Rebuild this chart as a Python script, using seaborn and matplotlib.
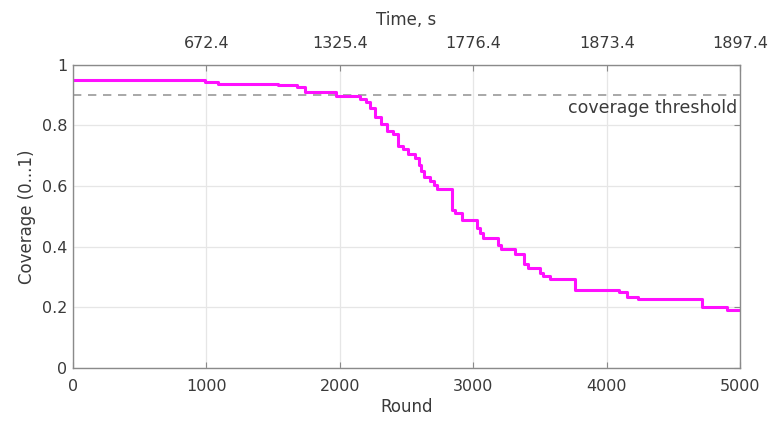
import matplotlib
matplotlib.use("Agg")
import matplotlib.pyplot as plt
import seaborn as sns
import pandas as pd

# Coverage per round (stepwise; each value holds until the next round entry)
rounds = [0, 990, 1087, 1537, 1679, 1739, 1971, 2151, 2196, 2226, 2264, 2309,
          2354, 2399, 2436, 2474, 2511, 2564, 2594, 2609, 2631, 2676, 2706,
          2729, 2841, 2863, 2916, 3028, 3051, 3073, 3186, 3208, 3313, 3381,
          3411, 3501, 3523, 3576, 3763, 4095, 4153, 4235, 4715, 4902, 5000]
coverage = [0.950, 0.944, 0.937, 0.932, 0.926, 0.912, 0.896, 0.888, 0.878,
            0.858, 0.828, 0.805, 0.782, 0.772, 0.733, 0.723, 0.706, 0.693,
            0.670, 0.650, 0.630, 0.617, 0.604, 0.591, 0.521, 0.512, 0.488,
            0.462, 0.446, 0.429, 0.406, 0.393, 0.376, 0.343, 0.330, 0.314,
            0.304, 0.294, 0.257, 0.249, 0.235, 0.226, 0.200, 0.190, 0.190]

threshold = 0.9
round_ticks = [0, 1000, 2000, 3000, 4000, 5000]
time_ticks = [1000, 2000, 3000, 4000, 5000]
time_labels = ["672.4", "1325.4", "1776.4", "1873.4", "1897.4"]

df = pd.DataFrame({"Round": rounds, "Coverage": coverage})

sns.set_theme(style="white")
plt.rcParams["font.family"] = ["DejaVu Sans"]
text_color = "#3a3a3a"
spine_color = "#8a8a8a"
tick_fs = 11.5
label_fs = 12

fig = plt.figure(figsize=(7.74, 4.21), dpi=100)
ax = fig.add_axes([0.0943, 0.126, 0.862, 0.72])

ax.grid(True, color="#e6e6e6", linewidth=0.9)
ax.set_axisbelow(True)

ax.axhline(threshold, color="#9a9a9a", linestyle=(0, (5, 4)), linewidth=1.2)
ax.text(4975, threshold - 0.013, "coverage threshold", ha="right", va="top",
        fontsize=12.5, color=text_color)

sns.lineplot(data=df, x="Round", y="Coverage", ax=ax, color="#ff10ff",
             linewidth=2.2, drawstyle="steps-post", estimator=None, sort=False)

ax.set_xlim(0, 5000)
ax.set_ylim(0, 1)
ax.set_xticks(round_ticks)
ax.set_yticks([0, 0.2, 0.4, 0.6, 0.8, 1])
ax.set_yticklabels(["0", "0.2", "0.4", "0.6", "0.8", "1"])
ax.set_xlabel("Round", fontsize=label_fs, color=text_color, labelpad=3)
ax.set_ylabel("Coverage (0...1)", fontsize=label_fs, color=text_color,
              labelpad=4)
ax.tick_params(axis="x", pad=8)
ax.tick_params(axis="y", pad=4)
ax.tick_params(axis="both", direction="in", length=4, width=0.8,
               color=spine_color, labelsize=tick_fs, labelcolor=text_color,
               top=False, right=True)

for s in ax.spines.values():
    s.set_visible(True)
    s.set_color(spine_color)
    s.set_linewidth(1.0)

top = ax.twiny()
top.set_xlim(ax.get_xlim())
top.set_xticks(time_ticks)
top.set_xticklabels(time_labels)
top.set_xlabel("Time, s", fontsize=label_fs, color=text_color, labelpad=8)
top.tick_params(axis="x", direction="in", length=4, width=0.8,
                color=spine_color, labelsize=tick_fs, labelcolor=text_color,
                pad=10)
for s in top.spines.values():
    s.set_visible(False)

fig.savefig("out.png", dpi=100, facecolor="white")
